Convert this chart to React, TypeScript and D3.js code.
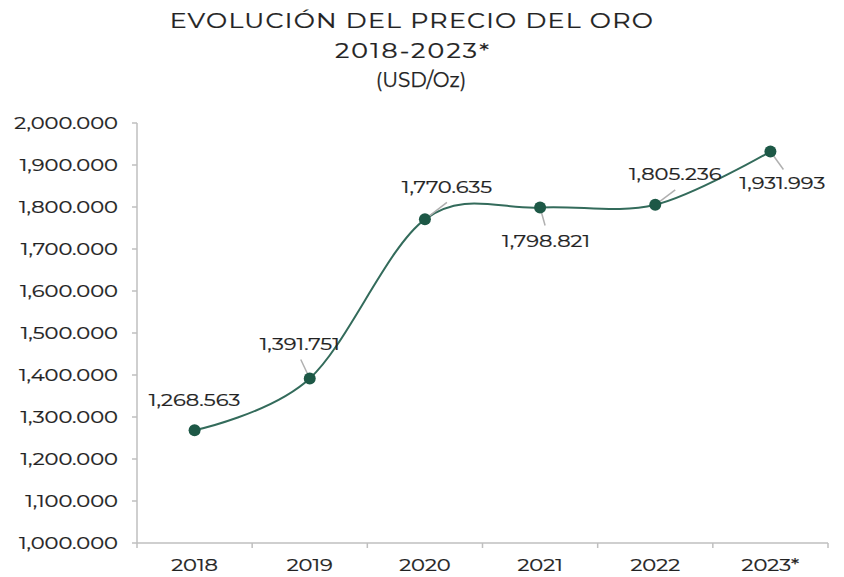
import React from "react";
import * as d3 from "d3";

const categories = ["2018", "2019", "2020", "2021", "2022", "2023*"];
const values = [1268.563, 1391.751, 1770.635, 1798.821, 1805.236, 1931.993];
const valueLabels = ["1,268.563", "1,391.751", "1,770.635", "1,798.821", "1,805.236", "1,931.993"];
const yTicks = [1000, 1100, 1200, 1300, 1400, 1500, 1600, 1700, 1800, 1900, 2000];
const titleLines = ["EVOLUCIÓN DEL PRECIO DEL ORO", "2018-2023*", "(USD/Oz)"];

// label offsets relative to point: [dx, dy] for label center, leader end
const labelOffsets: [number, number, number, number][] = [
  [0, -30, 0, 0],
  [-10, -35, -9, -19],
  [22, -32, 22, -17],
  [6, 33, 5, 18],
  [20, -31, 20, -15],
  [12, 31, 13, 18],
];

const W = 844;
const H = 577;
const margin = { left: 137, right: 16, top: 123, bottom: 34 };
const FONT = "Montserrat, 'DejaVu Sans', sans-serif";
const SX = 1.2;

function SText(props: {
  x: number;
  y: number;
  anchor: "start" | "middle" | "end";
  size: number;
  sx?: number;
  spacing?: number;
  children: React.ReactNode;
}) {
  const sx = props.sx ?? SX;
  return (
    <g transform={`translate(${props.x},${props.y}) scale(${sx},1)`}>
      <text
        x={0}
        y={0}
        dy="0.35em"
        textAnchor={props.anchor}
        fontSize={props.size}
        fontWeight={400}
        fill="#222222"
        stroke="#222222"
        strokeWidth={0.25}
        letterSpacing={props.spacing ?? 0}
      >
        {props.children}
      </text>
    </g>
  );
}

export default function App() {
  const x = d3
    .scaleBand<string>()
    .domain(categories)
    .range([margin.left, W - margin.right])
    .padding(0);
  const y = d3.scaleLinear().domain([1000, 2000]).range([H - margin.bottom, margin.top]);

  const line = d3
    .line<number>()
    .x((_, i) => (x(categories[i]) as number) + x.bandwidth() / 2)
    .y((d) => y(d))
    .curve(d3.curveCardinal.tension(0));

  const axisColor = "#bfbfbf";
  const x0 = margin.left;
  const x1 = W - margin.right;
  const yb = H - margin.bottom;
  const boundaries = categories.map((c) => x(c) as number).concat([x1]);

  return (
    <svg
      width={W}
      height={H}
      style={{ position: "absolute", left: 0, top: 0, background: "#fff" }}
      fontFamily={FONT}
    >
      <SText x={412} y={21} anchor="middle" size={21} spacing={1.1}>
        {titleLines[0]}
      </SText>
      <SText x={413} y={51} anchor="middle" size={21} spacing={1.8}>
        {titleLines[1]}
      </SText>
      <SText x={421} y={80} anchor="middle" size={20} sx={1}>
        {titleLines[2]}
      </SText>

      {/* y axis */}
      <line x1={x0} x2={x0} y1={y(2000)} y2={yb} stroke={axisColor} strokeWidth={1.5} />
      {yTicks.map((t) => (
        <g key={t}>
          <line x1={x0 - 5} x2={x0} y1={y(t)} y2={y(t)} stroke={axisColor} strokeWidth={1.5} />
          <SText x={118} y={y(t)} anchor="end" size={17.5}>
            {d3.format(",")(t) + ".000"}
          </SText>
        </g>
      ))}

      {/* x axis */}
      <line x1={x0} x2={x1} y1={yb} y2={yb} stroke={axisColor} strokeWidth={1.5} />
      {boundaries.map((b, i) => (
        <line key={i} x1={b} x2={b} y1={yb} y2={yb + 5} stroke={axisColor} strokeWidth={1.5} />
      ))}
      {categories.map((c) => (
        <SText key={c} x={(x(c) as number) + x.bandwidth() / 2} y={yb + 22} anchor="middle" size={17.5}>
          {c}
        </SText>
      ))}

      {/* line */}
      <path d={line(values) || ""} fill="none" stroke="#336b5b" strokeWidth={2} />

      {/* leader lines */}
      {values.map((v, i) => {
        const px = (x(categories[i]) as number) + x.bandwidth() / 2;
        const py = y(v);
        const o = labelOffsets[i];
        if (o[2] === 0 && o[3] === 0) return null;
        return (
          <line
            key={"l" + i}
            x1={px}
            y1={py}
            x2={px + o[2]}
            y2={py + o[3]}
            stroke="#b0b0b0"
            strokeWidth={1.5}
          />
        );
      })}

      {/* points */}
      {values.map((v, i) => (
        <circle
          key={"c" + i}
          cx={(x(categories[i]) as number) + x.bandwidth() / 2}
          cy={y(v)}
          r={6}
          fill="#1d5846"
        />
      ))}

      {/* labels */}
      {values.map((v, i) => {
        const px = (x(categories[i]) as number) + x.bandwidth() / 2;
        const py = y(v);
        const o = labelOffsets[i];
        return (
          <SText key={"t" + i} x={px + o[0]} y={py + o[1]} anchor="middle" size={17.5}>
            {valueLabels[i]}
          </SText>
        );
      })}
    </svg>
  );
}
